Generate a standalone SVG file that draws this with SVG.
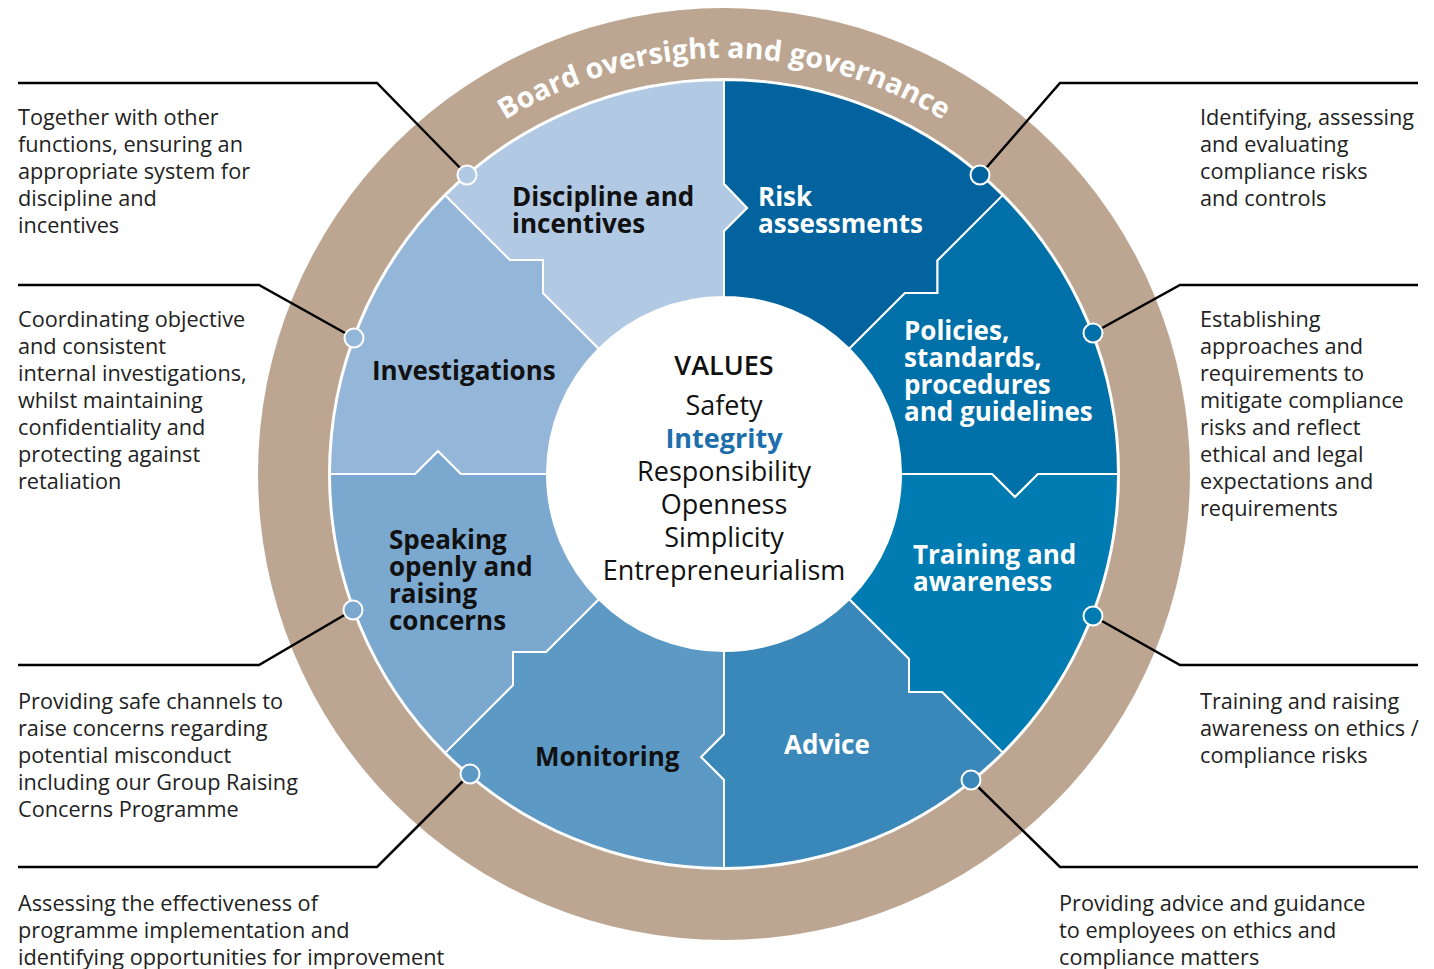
<svg xmlns="http://www.w3.org/2000/svg" width="1434" height="969" viewBox="0 0 1434 969">
<defs>
<style>
.seg{stroke:#fff;stroke-width:2;stroke-linejoin:miter}
.lbl{font-family:"Open Sans","Liberation Sans",sans-serif;font-weight:700;font-size:26px}
.dk{fill:#111}
.wt{fill:#fff}
.side{font-family:"Open Sans","Liberation Sans",sans-serif;font-size:21.7px;fill:#222}
.val{font-family:"Open Sans","Liberation Sans",sans-serif;font-size:27px;fill:#111;text-anchor:middle}
.con{fill:none;stroke:#000;stroke-width:2.5}
.dot{stroke:#fff;stroke-width:2}
</style>
<path id="arcText" d="M 314.3,401.8 A 416 416 0 0 1 1133.7,401.8"/>
</defs>
<rect width="1434" height="969" fill="#fff"/>
<g id="ring">
<circle cx="724" cy="474" r="466" fill="#BCA692"/>
<circle cx="724" cy="474" r="396" fill="#fff"/>
<text font-family="'Open Sans','Liberation Sans',sans-serif" font-weight="700" font-size="28.5" fill="#fff"><textPath href="#arcText" startOffset="50%" text-anchor="middle">Board oversight and governance</textPath></text>
</g>
<g id="risk">
<path class="seg" fill="#02639E" d="M 724,80 A 394 394 0 0 1 1002.6,195.4 L 937.5,260.5 L 937.5,293 L 905,293 L 849.2,348.8 A 177 177 0 0 0 724,297 L 724,231 L 747,208 L 724,184 Z"/>
<text class="lbl wt" x="758" y="206">Risk</text>
<text class="lbl wt" x="758" y="233">assessments</text>
</g>
<g id="policies">
<path class="seg" fill="#0070A8" d="M 1002.6,195.4 A 394 394 0 0 1 1118,474 L 1038,474 L 1015,497 L 992,474 L 901,474 A 177 177 0 0 0 849.2,348.8 L 905,293 L 937.5,293 L 937.5,260.5 Z"/>
<text class="lbl wt" x="904" y="340">Policies,</text>
<text class="lbl wt" x="904" y="367">standards,</text>
<text class="lbl wt" x="904" y="394">procedures</text>
<text class="lbl wt" x="904" y="421">and guidelines</text>
</g>
<g id="training">
<path class="seg" fill="#007CB2" d="M 1118,474 A 394 394 0 0 1 1002.6,752.6 L 942,692 L 909,692 L 909,659 L 849.2,599.2 A 177 177 0 0 0 901,474 L 992,474 L 1015,497 L 1038,474 Z"/>
<text class="lbl wt" x="913" y="564">Training and</text>
<text class="lbl wt" x="913" y="591">awareness</text>
</g>
<g id="advice">
<path class="seg" fill="#3A88BA" d="M 1002.6,752.6 A 394 394 0 0 1 724,868 L 724,780 L 701,757 L 724,734 L 724,651 A 177 177 0 0 0 849.2,599.2 L 909,659 L 909,692 L 942,692 Z"/>
<text class="lbl wt" x="784" y="754">Advice</text>
</g>
<g id="monitoring">
<path class="seg" fill="#5C99C5" d="M 724,868 A 394 394 0 0 1 445.4,752.6 L 513,685 L 513,652 L 546,652 L 598.8,599.2 A 177 177 0 0 0 724,651 L 724,734 L 701,757 L 724,780 Z"/>
<text class="lbl dk" x="535" y="766">Monitoring</text>
</g>
<g id="speaking">
<path class="seg" fill="#7AA8CF" d="M 445.4,752.6 A 394 394 0 0 1 330,474 L 415,474 L 438,451 L 461,474 L 547,474 A 177 177 0 0 0 598.8,599.2 L 546,652 L 513,652 L 513,685 Z"/>
<text class="lbl dk" x="389" y="549">Speaking</text>
<text class="lbl dk" x="389" y="576">openly and</text>
<text class="lbl dk" x="389" y="603">raising</text>
<text class="lbl dk" x="389" y="630">concerns</text>
</g>
<g id="investigations">
<path class="seg" fill="#94B7D9" d="M 330,474 A 394 394 0 0 1 445.4,195.4 L 510,260 L 543,260 L 543,293 L 598.8,348.8 A 177 177 0 0 0 547,474 L 461,474 L 438,451 L 415,474 Z"/>
<text class="lbl dk" x="372" y="380">Investigations</text>
</g>
<g id="discipline">
<path class="seg" fill="#B1C9E3" d="M 445.4,195.4 A 394 394 0 0 1 724,80 L 724,184 L 747,208 L 724,231 L 724,297 A 177 177 0 0 0 598.8,348.8 L 543,293 L 543,260 L 510,260 Z"/>
<text class="lbl dk" x="512" y="206">Discipline and</text>
<text class="lbl dk" x="512" y="233">incentives</text>
</g>
<g id="values">
<circle cx="724" cy="474" r="177" fill="#fff"/>
<text class="val" x="724" y="375" font-weight="600" font-size="28">VALUES</text>
<text class="val" x="724" y="415">Safety</text>
<text class="val" x="724" y="448" font-weight="700" style="fill:#1D6FAC">Integrity</text>
<text class="val" x="724" y="481">Responsibility</text>
<text class="val" x="724" y="514">Openness</text>
<text class="val" x="724" y="547">Simplicity</text>
<text class="val" x="724" y="580">Entrepreneurialism</text>
</g>
<g id="connectors">
<polyline class="con" points="467,175 377,83 18,83"/>
<polyline class="con" points="354,338 259,285 18,285"/>
<polyline class="con" points="353,610 259,665 18,665"/>
<polyline class="con" points="470,774 377,867 18,867"/>
<polyline class="con" points="980,175 1060,83 1418,83"/>
<polyline class="con" points="1093,333 1180,285 1418,285"/>
<polyline class="con" points="1093,616 1180,665 1418,665"/>
<polyline class="con" points="971,780 1060,867 1418,867"/>
<circle class="dot" cx="467" cy="175" r="9.5" fill="#B1C9E3"/>
<circle class="dot" cx="354" cy="338" r="9.5" fill="#94B7D9"/>
<circle class="dot" cx="353" cy="610" r="9.5" fill="#7AA8CF"/>
<circle class="dot" cx="470" cy="774" r="9.5" fill="#5C99C5"/>
<circle class="dot" cx="980" cy="175" r="9.5" fill="#02639E"/>
<circle class="dot" cx="1093" cy="333" r="9.5" fill="#0070A8"/>
<circle class="dot" cx="1093" cy="616" r="9.5" fill="#007CB2"/>
<circle class="dot" cx="971" cy="780" r="9.5" fill="#3A88BA"/>
</g>
<g id="note-discipline">
<text class="side" x="18" y="125">Together with other</text>
<text class="side" x="18" y="152">functions, ensuring an</text>
<text class="side" x="18" y="179">appropriate system for</text>
<text class="side" x="18" y="206">discipline and</text>
<text class="side" x="18" y="233">incentives</text>
</g>
<g id="note-investigations">
<text class="side" x="18" y="327">Coordinating objective</text>
<text class="side" x="18" y="354">and consistent</text>
<text class="side" x="18" y="381">internal investigations,</text>
<text class="side" x="18" y="408">whilst maintaining</text>
<text class="side" x="18" y="435">confidentiality and</text>
<text class="side" x="18" y="462">protecting against</text>
<text class="side" x="18" y="489">retaliation</text>
</g>
<g id="note-speaking">
<text class="side" x="18" y="709">Providing safe channels to</text>
<text class="side" x="18" y="736">raise concerns regarding</text>
<text class="side" x="18" y="763">potential misconduct</text>
<text class="side" x="18" y="790">including our Group Raising</text>
<text class="side" x="18" y="817">Concerns Programme</text>
</g>
<g id="note-monitoring">
<text class="side" x="18" y="911">Assessing the effectiveness of</text>
<text class="side" x="18" y="938">programme implementation and</text>
<text class="side" x="18" y="965">identifying opportunities for improvement</text>
</g>
<g id="note-risk">
<text class="side" x="1200" y="125">Identifying, assessing</text>
<text class="side" x="1200" y="152">and evaluating</text>
<text class="side" x="1200" y="179">compliance risks</text>
<text class="side" x="1200" y="206">and controls</text>
</g>
<g id="note-policies">
<text class="side" x="1200" y="327">Establishing</text>
<text class="side" x="1200" y="354">approaches and</text>
<text class="side" x="1200" y="381">requirements to</text>
<text class="side" x="1200" y="408">mitigate compliance</text>
<text class="side" x="1200" y="435">risks and reflect</text>
<text class="side" x="1200" y="462">ethical and legal</text>
<text class="side" x="1200" y="489">expectations and</text>
<text class="side" x="1200" y="516">requirements</text>
</g>
<g id="note-training">
<text class="side" x="1200" y="709">Training and raising</text>
<text class="side" x="1200" y="736">awareness on ethics /</text>
<text class="side" x="1200" y="763">compliance risks</text>
</g>
<g id="note-advice">
<text class="side" x="1059" y="911">Providing advice and guidance</text>
<text class="side" x="1059" y="938">to employees on ethics and</text>
<text class="side" x="1059" y="965">compliance matters</text>
</g>
</svg>
